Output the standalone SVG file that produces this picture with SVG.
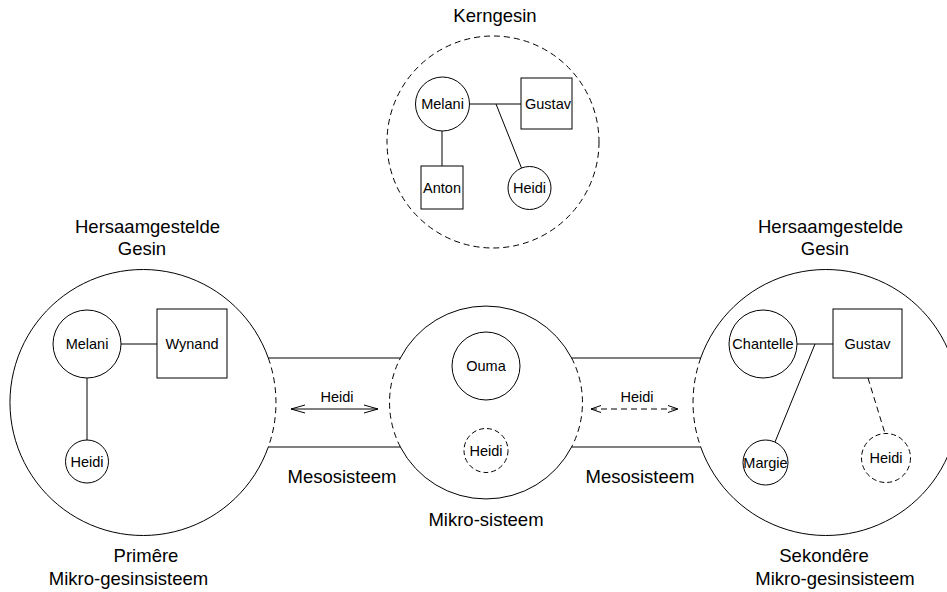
<svg xmlns="http://www.w3.org/2000/svg" width="947" height="592" viewBox="0 0 947 592">
<style>
  .ln{fill:none;stroke:#000;stroke-width:1}
  .dsh{fill:none;stroke:#000;stroke-width:1;stroke-dasharray:6,4}
  .dshs{fill:none;stroke:#000;stroke-width:1;stroke-dasharray:5,3}
  .nd{fill:#fff;stroke:#000;stroke-width:1}
  .ndd{fill:#fff;stroke:#000;stroke-width:1;stroke-dasharray:5,3}
  text{font-family:"Liberation Sans",Arial,Helvetica,sans-serif;fill:#000;text-anchor:middle}
  .big{font-size:18.5px}
  .lbl{font-size:14.5px}
</style>
<defs>
  <marker id="arr" markerWidth="16" markerHeight="10" refX="14" refY="5" orient="auto-start-reverse" markerUnits="userSpaceOnUse">
    <path d="M0,1 L14,5 L0,9" fill="none" stroke="#000" stroke-width="1"/>
  </marker>
  <marker id="arrs" markerWidth="12" markerHeight="10" refX="10" refY="5" orient="auto-start-reverse" markerUnits="userSpaceOnUse">
    <path d="M0,1.5 L10,5 L0,8.5" fill="none" stroke="#000" stroke-width="1"/>
  </marker>
</defs>
<rect width="947" height="592" fill="#fff"/>

<!-- Systems (big circles) -->
<g id="kerngesin">
  <circle class="dsh" cx="493" cy="142" r="106"/>
  <text class="big" x="495" y="22">Kerngesin</text>
</g>
<g id="primere">
  <path class="ln" d="M268.3,358 A133,133 0 1 0 268.3,447"/>
  <path class="dsh" d="M268.3,358 A133,133 0 0 1 268.3,447"/>
  <text class="big" x="147.5" y="232.5">Hersaamgestelde</text>
  <text class="big" x="142" y="254.5">Gesin</text>
  <text class="big" x="146" y="562">Primêre</text>
  <text class="big" x="128.5" y="585">Mikro-gesinsisteem</text>
</g>
<g id="mikro">
  <path class="ln" d="M400.4,358 A96.5,96.5 0 0 1 571.6,358"/>
  <path class="ln" d="M571.6,447 A96.5,96.5 0 0 1 400.4,447"/>
  <path class="dsh" d="M571.6,358 A96.5,96.5 0 0 1 571.6,447"/>
  <path class="dsh" d="M400.4,447 A96.5,96.5 0 0 1 400.4,358"/>
  <text class="big" x="486" y="526">Mikro-sisteem</text>
</g>
<g id="sekondere">
  <path class="ln" d="M700.7,447 A133,133 0 1 0 700.7,358"/>
  <path class="dsh" d="M700.7,358 A133,133 0 0 0 700.7,447"/>
  <text class="big" x="830.5" y="232.5">Hersaamgestelde</text>
  <text class="big" x="825" y="254.5">Gesin</text>
  <text class="big" x="824" y="562">Sekondêre</text>
  <text class="big" x="835" y="585">Mikro-gesinsisteem</text>
</g>
<g id="meso-links">
  <line class="ln" x1="268.3" y1="358" x2="400.4" y2="358"/>
  <line class="ln" x1="268.3" y1="447" x2="400.4" y2="447"/>
  <text class="big" x="342" y="483">Mesosisteem</text>
</g>
<g id="meso-regs">
  <line class="ln" x1="571.6" y1="358" x2="700.7" y2="358"/>
  <line class="ln" x1="571.6" y1="447" x2="700.7" y2="447"/>
  <text class="big" x="640" y="483">Mesosisteem</text>
</g>

<!-- Connectors -->
<g id="connectors">
  <line class="ln" x1="469" y1="104" x2="521" y2="104"/>
  <line class="ln" x1="496" y1="104" x2="521.5" y2="168"/>
  <line class="ln" x1="442" y1="131" x2="442" y2="166"/>
  <line class="ln" x1="121" y1="344" x2="157" y2="344"/>
  <line class="ln" x1="87" y1="378" x2="87" y2="440"/>
  <line class="ln" x1="797" y1="344" x2="833" y2="344"/>
  <line class="ln" x1="815" y1="344" x2="775" y2="442"/>
  <line class="dsh" x1="868" y1="378" x2="885" y2="433.5"/>
  <line class="ln" x1="291" y1="409" x2="378" y2="409" marker-start="url(#arr)" marker-end="url(#arr)"/>
  <line class="dsh" x1="591" y1="409" x2="678" y2="409" stroke-dasharray="5,4" marker-start="url(#arrs)" marker-end="url(#arrs)"/>
  <text class="lbl" x="337" y="402">Heidi</text>
  <text class="lbl" x="637" y="402">Heidi</text>
</g>

<!-- Kerngesin nodes -->
<g id="k-melani"><circle class="nd" cx="442.5" cy="104" r="27"/><text class="lbl" x="442.5" y="109">Melani</text></g>
<g id="k-gustav"><rect class="nd" x="521" y="78" width="51" height="51"/><text class="lbl" x="548" y="109">Gustav</text></g>
<g id="k-anton"><rect class="nd" x="421" y="166" width="42" height="43"/><text class="lbl" x="442" y="192.5">Anton</text></g>
<g id="k-heidi"><circle class="nd" cx="529.5" cy="188" r="21.5"/><text class="lbl" x="529.5" y="193">Heidi</text></g>

<!-- Primere nodes -->
<g id="p-melani"><circle class="nd" cx="87" cy="344" r="34"/><text class="lbl" x="87" y="349">Melani</text></g>
<g id="p-wynand"><rect class="nd" x="157" y="309" width="70" height="69"/><text class="lbl" x="192" y="349">Wynand</text></g>
<g id="p-heidi"><circle class="nd" cx="87" cy="461.5" r="21.5"/><text class="lbl" x="87" y="466.5">Heidi</text></g>

<!-- Mikro nodes -->
<g id="m-ouma"><circle class="nd" cx="486" cy="366" r="34"/><text class="lbl" x="486" y="371">Ouma</text></g>
<g id="m-heidi"><circle class="ndd" cx="486" cy="450.5" r="22"/><text class="lbl" x="486" y="455.5">Heidi</text></g>

<!-- Sekondere nodes -->
<g id="s-chantelle"><circle class="nd" cx="763" cy="344" r="34"/><text class="lbl" x="763" y="349">Chantelle</text></g>
<g id="s-gustav"><rect class="nd" x="833" y="309" width="69" height="69"/><text class="lbl" x="867.5" y="349">Gustav</text></g>
<g id="s-margie"><circle class="nd" cx="765.5" cy="462.5" r="22.5"/><text class="lbl" x="765.5" y="467.5">Margie</text></g>
<g id="s-heidi"><circle class="ndd" cx="886" cy="458" r="24.5"/><text class="lbl" x="886" y="463">Heidi</text></g>
</svg>
